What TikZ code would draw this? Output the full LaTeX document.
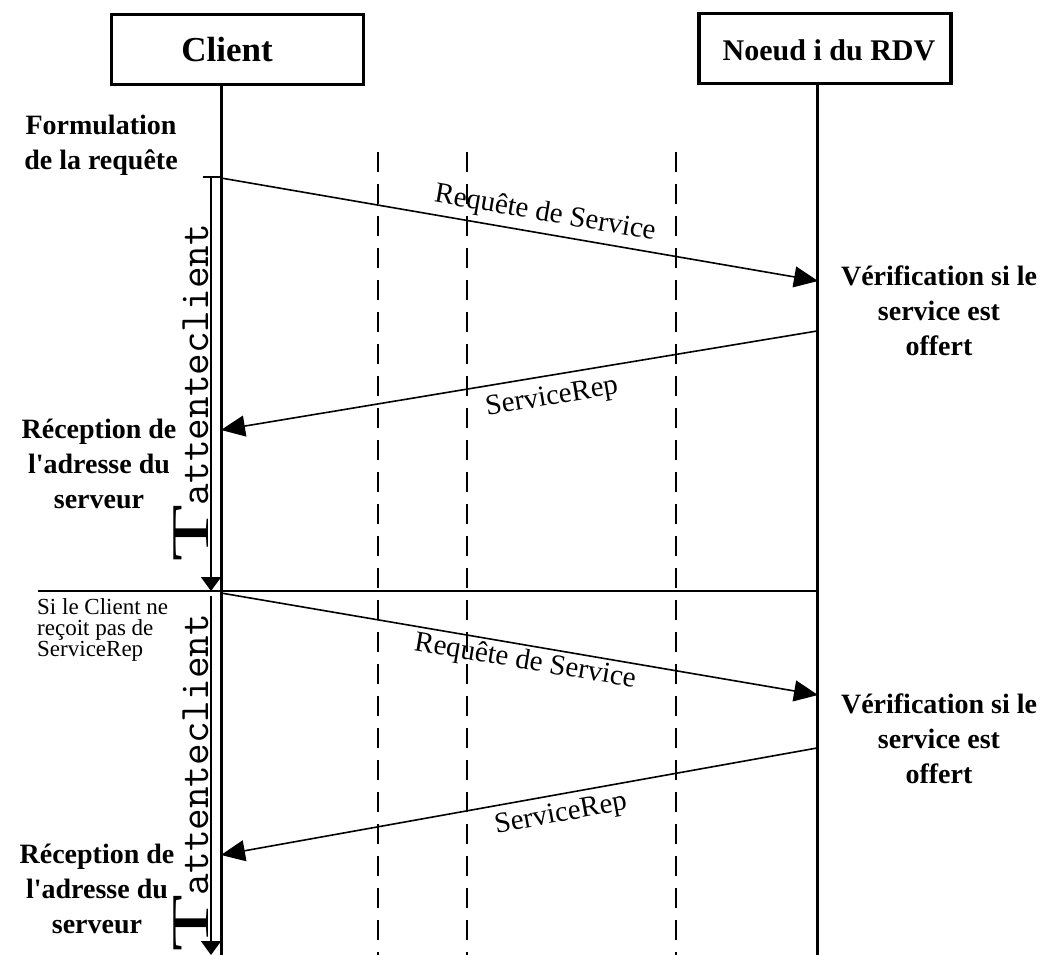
\documentclass[tikz,border=0pt]{standalone}
\usepackage{fontspec}
\setmainfont{Liberation Serif}[Ligatures=TeXOff]
\usetikzlibrary{arrows.meta}
\newcommand{\bigT}{{\rmfamily\mdseries\fontsize{53}{53}\selectfont\scalebox{1.75}[1]{T}}}
\begin{document}
\begin{tikzpicture}[x=1pt,y=-1pt,
  actor/.style={draw,line width=3.5pt,minimum width=252pt,minimum height=70pt,inner sep=0pt},
  actortext/.style={font=\bfseries\fontsize{#1}{#1}\selectfont,inner sep=0pt},
  life/.style={line width=3pt},
  guide/.style={line width=1.8pt,dash pattern=on 20pt off 12pt},
  msg/.style={line width=1.6pt,-{Triangle[length=24pt,width=21pt]}},
  msglabel/.style={font=\fontsize{29}{29}\selectfont,inner sep=0pt},
  side/.style={font=\bfseries\fontsize{28}{35}\selectfont,align=center,inner sep=0pt},
  note/.style={font=\fontsize{23}{21}\selectfont,align=left,inner sep=0pt},
  timer/.style={line width=1.8pt,-{Triangle[length=14pt,width=20pt]}},
  timerlabel/.style={rotate=90,anchor=base west,inner sep=0pt,font=\ttfamily\fontsize{42}{42}\selectfont},
]
\useasboundingbox (0,0) rectangle (1052,955);
\fill[white] (0,0) rectangle (1052,955);

% actors
\node[actor] (client) at (237.5,49.5) {};
\node[actortext=35] (clientname) at (227,50) {Client};
\node[actor] (rdv) at (825,48.5) {};
\node[actortext=30] (rdvname) at (829,50) {Noeud i du RDV};

% lifelines
\coordinate (cbot) at (221,955);
\coordinate (nbot) at (817,955);
\draw[life] (client.south -| cbot) -- (cbot);
\draw[life] (rdv.south -| nbot) -- (nbot);

% dashed guides
\coordinate (g1t) at (378,152); \coordinate (g1b) at (378,955);
\coordinate (g2t) at (467,152); \coordinate (g2b) at (467,955);
\coordinate (g3t) at (676,152); \coordinate (g3b) at (676,955);
\draw[guide] (g1t) -- (g1b);
\draw[guide] (g2t) -- (g2b);
\draw[guide] (g3t) -- (g3b);

% retry separator
\coordinate (sepl) at (38,591);
\coordinate (sepr) at (817,591);
\draw[line width=1.8pt] (sepl) -- (sepr);

% waiting timers
\coordinate (t1a) at (211,177); \coordinate (t1b) at (211,591);
\coordinate (t1l) at (203,177); \coordinate (t1r) at (221,177);
\draw[line width=1.8pt] (t1l) -- (t1r);
\draw[timer] (t1a) -- (t1b);
\coordinate (t2a) at (211,596); \coordinate (t2b) at (211,955);
\draw[timer] (t2a) -- (t2b);
\node[timerlabel] (wait1) at (208,562) {\bigT attenteclient};
\node[timerlabel] (wait2) at (208,952) {\bigT attenteclient};

% messages
\coordinate (c1) at (221,178); \coordinate (n1) at (818,281);
\coordinate (n2) at (817,331); \coordinate (c2) at (221,430);
\coordinate (c3) at (221,593); \coordinate (n3) at (818,695);
\coordinate (n4) at (817,748); \coordinate (c4) at (221,855);
\draw[msg] (c1) -- (n1);
\draw[msg] (n2) -- (c2);
\draw[msg] (c3) -- (n3);
\draw[msg] (n4) -- (c4);

\node[msglabel,rotate=-9.8] (req1) at (545,214) {Requête de Service};
\node[msglabel,rotate=9.5] (rep1) at (552,398) {ServiceRep};
\node[msglabel,rotate=-9.5] (req2) at (525,662) {Requête de Service};
\node[msglabel,rotate=10.5] (rep2) at (561,815) {ServiceRep};

% side annotations
\node[side] (formul) at (101,145) {Formulation\\de la requête};
\node[side] (verif1) at (939,311) {Vérification si le\\service est\\offert};
\node[side] (recep1) at (99,464) {Réception de\\l'adresse du\\serveur};
\node[note,anchor=north west] (retry) at (37,598) {Si le Client ne\\reçoit pas de\\ServiceRep};
\node[side] (verif2) at (939,739) {Vérification si le\\service est\\offert};
\node[side] (recep2) at (97,889) {Réception de\\l'adresse du\\serveur};
\end{tikzpicture}
\end{document}
